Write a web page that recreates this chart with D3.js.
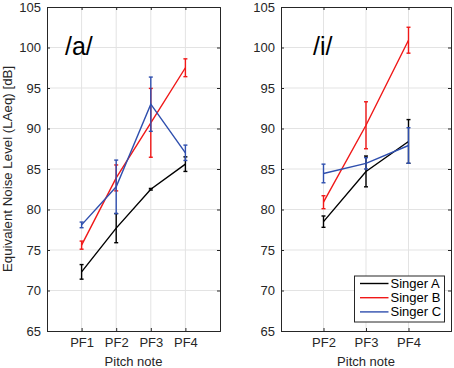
<!DOCTYPE html>
<html>
<head>
<meta charset="utf-8">
<script src="https://cdn.jsdelivr.net/npm/d3@7"></script>
<style>
  body { margin: 0; background: #fff; }
  svg text { font-family: "Liberation Sans", Arial, sans-serif; fill: #262626; }
</style>
</head>
<body>
<div class="chart"></div>
<script>
// ---- data ----
const singers = ["Singer A", "Singer B", "Singer C"];
const colors = ["#000000", "#f01818", "#2f4fae"];
const yTicks = [65, 70, 75, 80, 85, 90, 95, 100, 105];

// vowel /a/ : PF1..PF4
const aNotes = ["PF1", "PF2", "PF3", "PF4"];
const aMeanA = [72.3, 77.7, 82.5, 85.6];
const aErrA = [0.9, 1.8, 0.1, 0.9];
const aMeanB = [75.6, 83.9, 90.7, 97.5];
const aErrB = [0.5, 1.6, 4.25, 1.1];
const aMeanC = [78.1, 82.8, 93.0, 87.0];
const aErrC = [0.35, 3.3, 3.35, 0.95];

// vowel /i/ : PF2..PF4
const iNotes = ["PF2", "PF3", "PF4"];
const iMeanA = [78.5, 84.7, 88.4];
const iErrA = [0.7, 1.9, 2.7];
const iMeanB = [80.9, 90.4, 100.9];
const iErrB = [0.8, 2.9, 1.6];
const iMeanC = [84.45, 85.7, 87.9];
const iErrC = [1.15, 0.7, 2.2];

const width = 454, height = 368;
const svg = d3.select(".chart").append("svg")
    .attr("width", width)
    .attr("height", height);

const yScale = d3.scaleLinear().domain([65, 105]).range([331, 7]);

function drawPanel(opts) {
    const { left, right, notes, first, xMax, means, errs, label, labelX } = opts;
    const xScale = d3.scaleLinear().domain([first - 1, xMax]).range([left, right]);
    const xVals = notes.map((n, i) => first + i);
    const top = yScale.range()[1], bottom = yScale.range()[0];
    const g = svg.append("g");

    // grid
    g.selectAll(".hgrid").data(yTicks.slice(1, -1)).enter().append("line")
        .attr("x1", left).attr("x2", right)
        .attr("y1", d => yScale(d)).attr("y2", d => yScale(d))
        .attr("stroke", "#e3e3e3").attr("stroke-width", 1);
    g.selectAll(".vgrid").data(xVals).enter().append("line")
        .attr("x1", d => xScale(d)).attr("x2", d => xScale(d))
        .attr("y1", top).attr("y2", bottom)
        .attr("stroke", "#e3e3e3").attr("stroke-width", 1);

    // series
    means.forEach((m, s) => {
        const pts = m.map((v, i) => ({ x: xVals[i], y: v, e: errs[s][i] }));
        const line = d3.line().x(d => xScale(d.x)).y(d => yScale(d.y));
        g.append("path").datum(pts)
            .attr("fill", "none").attr("stroke", colors[s]).attr("stroke-width", 1.4)
            .attr("d", line);
        const eb = g.selectAll(null).data(pts).enter().append("g")
            .attr("stroke", colors[s]).attr("stroke-width", 1.4);
        eb.append("line")
            .attr("x1", d => xScale(d.x)).attr("x2", d => xScale(d.x))
            .attr("y1", d => yScale(d.y - d.e)).attr("y2", d => yScale(d.y + d.e));
        eb.append("line")
            .attr("x1", d => xScale(d.x) - 2).attr("x2", d => xScale(d.x) + 2)
            .attr("y1", d => yScale(d.y - d.e)).attr("y2", d => yScale(d.y - d.e));
        eb.append("line")
            .attr("x1", d => xScale(d.x) - 2).attr("x2", d => xScale(d.x) + 2)
            .attr("y1", d => yScale(d.y + d.e)).attr("y2", d => yScale(d.y + d.e));
    });

    // axes (box, inward ticks)
    const axisColor = "#262626";
    const yl = g.append("g").attr("transform", `translate(${left},0)`)
        .call(d3.axisLeft(yScale).tickValues(yTicks).tickSize(-3).tickPadding(6));
    const yr = g.append("g").attr("transform", `translate(${right},0)`)
        .call(d3.axisRight(yScale).tickValues(yTicks).tickSize(-3).tickFormat(""));
    const xb = g.append("g").attr("transform", `translate(0,${bottom})`)
        .call(d3.axisBottom(xScale).tickValues(xVals).tickSize(-3).tickPadding(7)
            .tickFormat((d, i) => notes[i]));
    const xt = g.append("g").attr("transform", `translate(0,${top})`)
        .call(d3.axisTop(xScale).tickValues(xVals).tickSize(-3).tickFormat(""));
    [yl, yr, xb, xt].forEach(a => {
        a.select(".domain").attr("stroke", axisColor).attr("stroke-width", 1);
        a.selectAll(".tick line").attr("stroke", axisColor);
        a.selectAll(".tick text").attr("fill", axisColor).style("font-size", "13px");
    });
    xb.selectAll(".tick text").attr("dy", "0.71em");

    // x label
    g.append("text")
        .attr("x", (left + right) / 2)
        .attr("y", 366)
        .attr("text-anchor", "middle")
        .style("font-size", "13px")
        .text("Pitch note");

    // vowel label
    g.append("text")
        .attr("x", labelX)
        .attr("y", 55)
        .style("font-size", "25px")
        .style("fill", "#000")
        .text(label);
    return xScale;
}

drawPanel({
    left: 47, right: 220, notes: aNotes, first: 1, xMax: 5,
    means: [aMeanA, aMeanB, aMeanC], errs: [aErrA, aErrB, aErrC],
    label: "/a/", labelX: 65
});
drawPanel({
    left: 281, right: 451, notes: iNotes, first: 2, xMax: 5,
    means: [iMeanA, iMeanB, iMeanC], errs: [iErrA, iErrB, iErrC],
    label: "/i/", labelX: 313
});

// y axis label
svg.append("text")
    .attr("transform", `translate(12,${(7 + 331) / 2}) rotate(-90)`)
    .attr("text-anchor", "middle")
    .style("font-size", "13.3px")
    .text("Equivalent Noise Level (LAeq) [dB]");

// legend
const legend = svg.append("g").attr("transform", "translate(354.5,276)");
legend.append("rect")
    .attr("width", 90).attr("height", 46)
    .attr("fill", "#fff").attr("stroke", "#262626").attr("stroke-width", 1);
singers.forEach((s, i) => {
    legend.append("line")
        .attr("x1", 5.5).attr("x2", 34)
        .attr("y1", 7.5 + i * 14.2).attr("y2", 7.5 + i * 14.2)
        .attr("stroke", colors[i]).attr("stroke-width", 1.4);
    legend.append("text")
        .attr("x", 36).attr("y", 7.5 + i * 14.2)
        .attr("dy", "0.35em")
        .style("font-size", "13px")
        .style("fill", "#000")
        .text(s);
});
</script>
</body>
</html>
